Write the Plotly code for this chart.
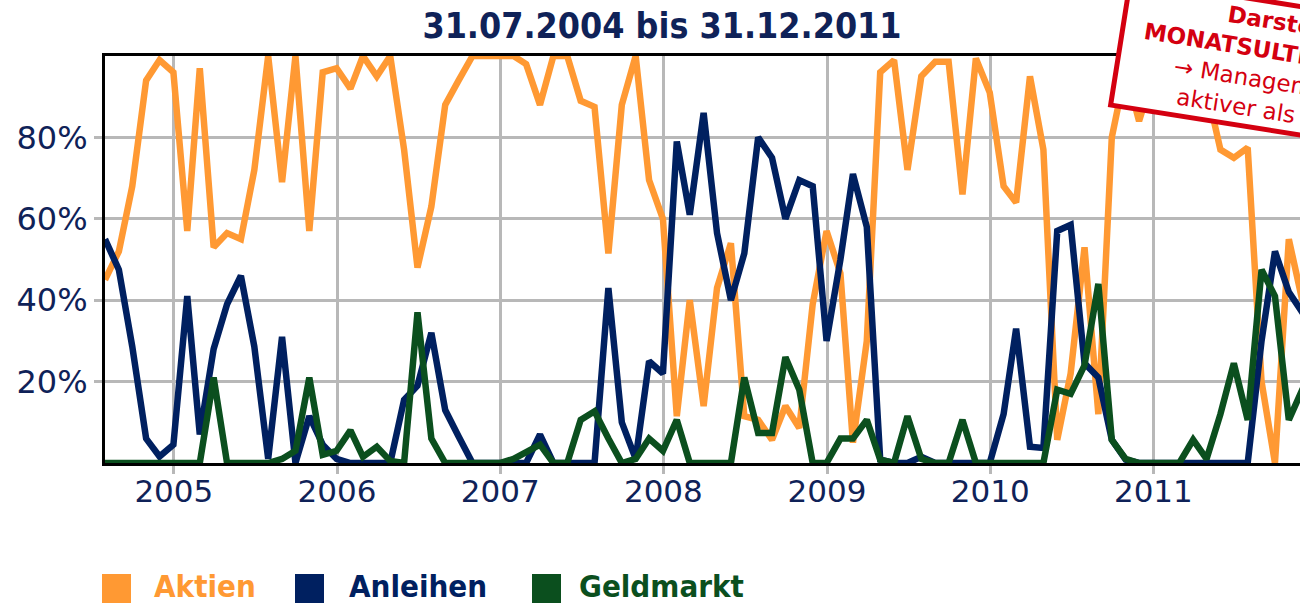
import pandas as pd
import plotly.graph_objects as go

# ---- data (monthly end-of-month values, in %) ----
months = pd.date_range("2004-07-31", periods=90, freq="ME")

aktien = [45, 52, 68, 94, 99, 96, 57, 97, 53, 56.5, 55, 72, 100, 69, 100, 57, 96, 97, 92, 100,
          95, 100, 77, 48, 63, 88, 94, 100, 100, 100, 100, 98, 88, 100, 100, 89, 87.5, 51.5, 88, 100,
          69.5, 60, 11.5, 40, 14, 43, 54, 11.5, 10.6, 5.7, 14, 8.6, 39, 57, 46.6, 5, 30, 96, 99, 72,
          95, 98.6, 98.6, 66, 99.4, 91, 68, 64, 95, 77, 5.7, 22, 53, 12, 80, 96.5, 84, 95, 98, 100,
          97, 92, 77, 75, 77.5, 20, 0, 55, 40, 45]
anleihen = [55, 47.5, 28.6, 6, 1.6, 4.5, 41, 7, 28, 39, 46, 28.6, 1, 31, 0, 11.5, 4.5, 1, 0, 0,
            0, 0, 15.5, 19, 32, 13, 6.5, 0, 0, 0, 0, 0, 7, 0, 0, 0, 0, 43, 10, 1,
            25, 22, 79, 61, 86, 56.5, 40, 51.5, 80, 75, 60, 69.5, 68, 30, 50, 71, 58, 0.8, 0, 0,
            1.5, 0, 0, 0, 0, 0, 12, 33, 4, 3.7, 57, 58.5, 24.5, 21, 5.7, 0.8, 0, 0, 0, 0,
            0, 0, 0, 0, 0, 30, 52, 42, 37, 35]
geldmarkt = [0, 0, 0, 0, 0, 0, 0, 0, 21, 0, 0, 0, 0, 1, 3, 21, 2, 3, 8, 1.5,
             4, 0.5, 0, 37, 6, 0, 0, 0, 0, 0, 1, 2.5, 4.5, 0, 0, 10.6, 12.7, 6, 0, 1,
             6, 3, 10.6, 0, 0, 0, 0, 21, 7.4, 7.4, 26, 18, 0, 0, 6, 6, 10.6, 0.8, 0, 11.5,
             1, 0, 0, 10.6, 0, 0, 0, 0, 0, 0, 18, 17, 24, 44, 5.7, 1, 0, 0, 0, 0,
             5.7, 1, 12, 24.5, 10.6, 47.5, 41, 10.6, 18, 20]

series_names = ["Aktien", "Anleihen", "Geldmarkt"]
series_colors = ["#FF9933", "#002060", "#0B4F1E"]
y_tickvals = [20, 40, 60, 80]
y_ticktext = ["20%", "40%", "60%", "80%"]
title_text = "31.07.2004 bis 31.12.2011"
stamp_lines = ["Darstellung der", "MONATSULTIMO-Werte", "→ Management", "aktiver als Benchmark"]

NAVY_TXT = "#0F2258"
RED = "#D40010"

fig = go.Figure()
for name, vals, col in zip(series_names, [aktien, anleihen, geldmarkt], series_colors):
    fig.add_trace(go.Scatter(x=months, y=vals, mode="lines", name=name,
                             line=dict(color=col, width=6.5), showlegend=False,
                             hoverinfo="skip"))

# ---- layout geometry ----
L, T, B = 105, 56, 463
W, H = 1300, 605
PW = W - L
PH = B - T

def px(xp):
    return (xp - L) / PW

def py(yp):
    return (B - yp) / PH

fig.update_layout(
    width=W, height=H,
    margin=dict(l=L, r=0, t=T, b=H - B, pad=0),
    paper_bgcolor="white", plot_bgcolor="white",
    title=dict(text="<b>" + title_text + "</b>", x=662 / W, xanchor="center",
               y=1 - 26 / H, yanchor="middle", yref="container",
               font=dict(family="DejaVu Sans Condensed, DejaVu Sans", size=35.5, color=NAVY_TXT)),
    showlegend=False,
)

fig.update_xaxes(
    type="date",
    range=["2004-07-31", "2011-11-25"],
    tick0="2005-01-01", dtick="M12", tickformat="%Y",
    showgrid=True, gridcolor="#B8B8B8", gridwidth=2.5,
    ticks="outside", ticklen=8, tickwidth=2.5, tickcolor="#B8B8B8",
    ticklabelstandoff=-9,
    showline=True, linecolor="black", linewidth=3, mirror=True,
    tickfont=dict(family="DejaVu Sans", size=31, color=NAVY_TXT),
    zeroline=False,
)
fig.update_yaxes(
    range=[0, 100],
    tickvals=y_tickvals, ticktext=y_ticktext,
    showgrid=True, gridcolor="#B8B8B8", gridwidth=2.5,
    ticks="outside", ticklen=8, tickwidth=2.5, tickcolor="#B8B8B8",
    ticklabelstandoff=0,
    showline=True, linecolor="black", linewidth=3, mirror=False,
    tickfont=dict(family="DejaVu Sans", size=32, color=NAVY_TXT),
    zeroline=False,
)

# ---- legend (squares + labels) ----
leg_sq_left = [102, 295, 532]
leg_txt_left = [153, 348, 578]
for name, col, sx, tx in zip(series_names, series_colors, leg_sq_left, leg_txt_left):
    fig.add_shape(type="rect", xref="paper", yref="paper",
                  x0=px(sx), x1=px(sx + 29), y0=py(603), y1=py(574),
                  fillcolor=col, line=dict(width=0))
    fig.add_annotation(text="<b>" + name + "</b>", xref="paper", yref="paper",
                       x=px(tx), y=py(605), xanchor="left", yanchor="bottom",
                       showarrow=False, borderpad=0,
                       font=dict(family="DejaVu Sans Condensed, DejaVu Sans", size=31, color=col))

# ---- red stamp ----
NB = "\u00a0"
indents = [12, 2, 7, 8]
bold = [True, True, False, False]
parts = []
for txt, n, b in zip(stamp_lines, indents, bold):
    s = NB * n + txt
    parts.append("<b>" + s + "</b>" if b else s)
fig.add_annotation(text="<br>".join(parts), xref="paper", yref="paper",
                   x=px(1108), y=py(-23), xanchor="left", yanchor="top",
                   showarrow=False, align="left", textangle=9,
                   bgcolor="white", bordercolor=RED, borderwidth=5, borderpad=3,
                   font=dict(family="DejaVu Sans", size=23, color=RED))

fig.write_html("out.html", config={"displayModeBar": False},
               post_script="document.body.style.margin='0px';document.body.style.overflow='hidden';")
